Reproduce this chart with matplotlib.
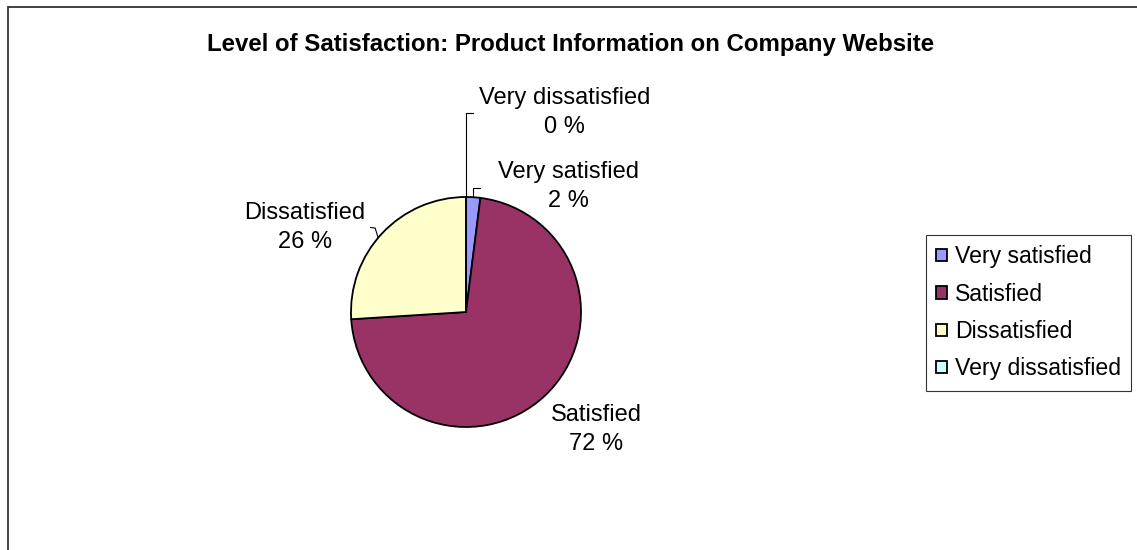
import numpy as np
import matplotlib
matplotlib.use('Agg')
import matplotlib.pyplot as plt
from matplotlib.patches import Rectangle

plt.rcParams['font.family'] = ['Liberation Sans', 'DejaVu Sans']

title = 'Level of Satisfaction: Product Information on Company Website'
categories = ['Very satisfied', 'Satisfied', 'Dissatisfied', 'Very dissatisfied']
values = [2, 72, 26, 0]
colors = ['#9999FF', '#993366', '#FFFFCC', '#CCFFFF']

W, H = 1137, 550
fig = plt.figure(figsize=(W / 100, H / 100), dpi=100)

# outer chart frame (right and bottom edges run off the picture)
fig.patches.append(Rectangle((8 / W, -0.1), 1.2, (H - 7) / H + 0.1,
                             transform=fig.transFigure, fill=False,
                             edgecolor='#333333', linewidth=1.3))

fig.text(571 / W, 1 - 44 / H, title, ha='center', va='center',
         fontsize=17.3, fontweight='bold')

# pie: centre (466, 312) px, radius 115 px
cx, cy, r = 466, 312, 115
ax = fig.add_axes([(cx - r) / W, (H - cy - r) / H, 2 * r / W, 2 * r / H])
wedges, _ = ax.pie(values, colors=colors, startangle=90, counterclock=False,
                   radius=1, wedgeprops=dict(edgecolor='black', linewidth=1.3))
ax.set_xlim(-1, 1)
ax.set_ylim(-1, 1)
ax.set_clip_on(False)

fs = 17
# label positions in pie units (radius = 1)
label_pos = {
    'Very satisfied': (0.89, 1.09),
    'Satisfied': (1.13, -1.02),
    'Dissatisfied': (-1.40, 0.735),
    'Very dissatisfied': (0.86, 1.735),
}
for cat, val in zip(categories, values):
    x, y = label_pos[cat]
    ax.text(x, y, f'{cat}\n{val} %', ha='center', va='center', fontsize=fs,
            linespacing=1.42, clip_on=False)

# leader lines
lw = 0.8
w_vd = wedges[3]
a = np.deg2rad(w_vd.theta1)
ax.plot([np.cos(a), np.cos(a), 0.06], [np.sin(a), 1.73, 1.73],
        color='black', lw=lw, clip_on=False)
w_vs = wedges[0]
a = np.deg2rad((w_vs.theta1 + w_vs.theta2) / 2)
ax.plot([np.cos(a), np.cos(a), 0.12], [np.sin(a), 1.08, 1.08],
        color='black', lw=lw, clip_on=False)
w_d = wedges[2]
a = np.deg2rad((w_d.theta1 + w_d.theta2) / 2 + 3)
ax.plot([np.cos(a), -0.79, -0.83], [np.sin(a), 0.73, 0.735],
        color='black', lw=lw, clip_on=False)

leg = fig.legend(wedges, categories, loc='upper left',
                 bbox_to_anchor=(926 / W, 1 - 235 / H), fontsize=16.6,
                 frameon=True, fancybox=False, edgecolor='black',
                 handlelength=0.45, handleheight=0.45, handletextpad=0.35,
                 labelspacing=0.62, borderpad=0.45, borderaxespad=0)
leg.get_frame().set_linewidth(0.8)

plt.savefig('out.png', dpi=100)
